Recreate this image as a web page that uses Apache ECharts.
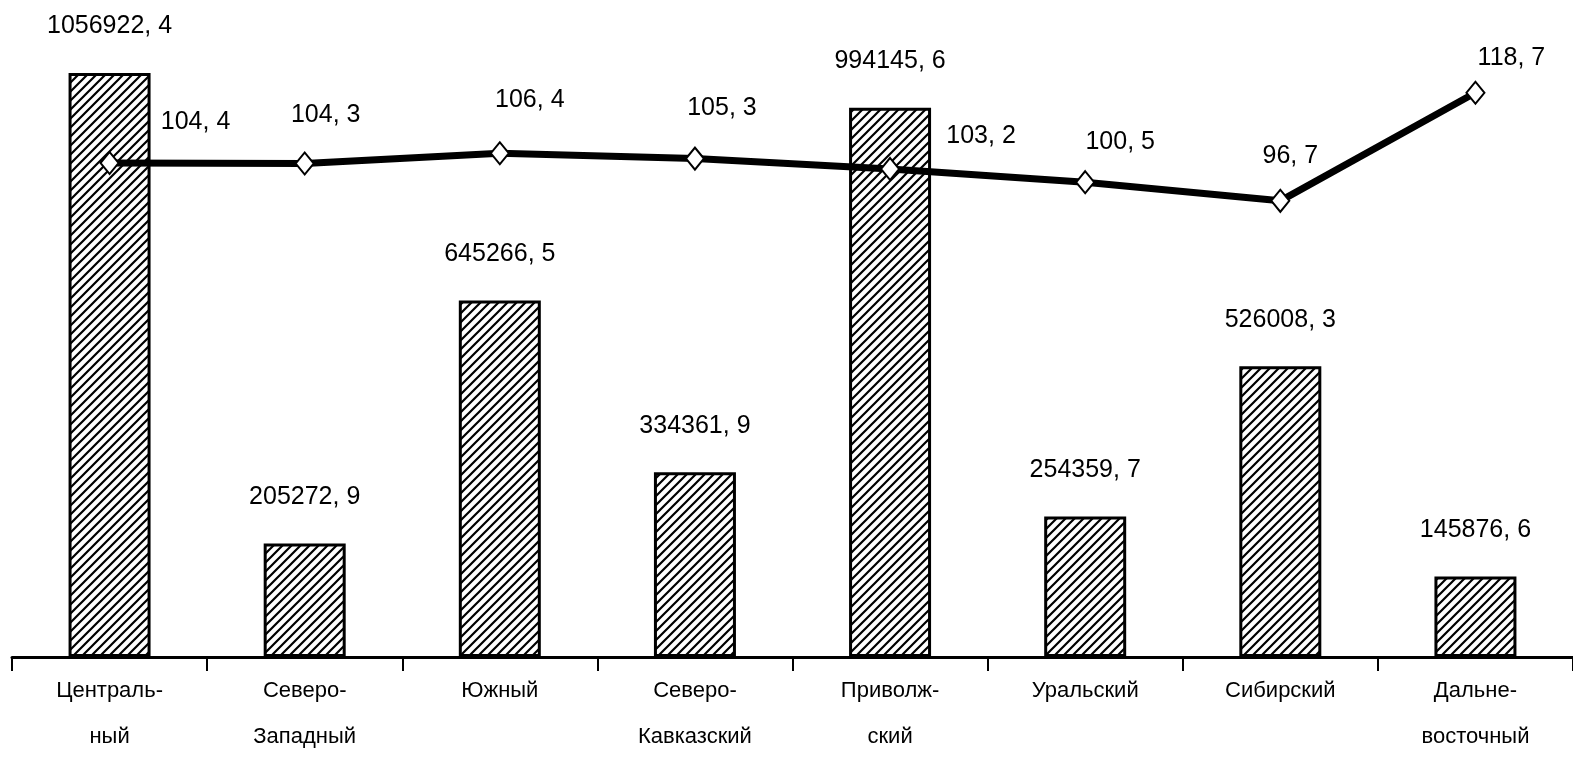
<!DOCTYPE html>
<html>
<head>
<meta charset="utf-8">
<script src="https://cdn.jsdelivr.net/npm/echarts@6/dist/echarts.min.js"></script>
<style>
html,body{margin:0;padding:0;background:#fff;}
#c{width:1573px;height:764px;}
</style>
</head>
<body>
<div id="c"></div>
<script>
var categories = ['Централь-\nный','Северо-\nЗападный','Южный','Северо-\nКавказский','Приволж-\nский','Уральский','Сибирский','Дальне-\nвосточный'];
var volumes = [1056922.4, 205272.9, 645266.5, 334361.9, 994145.6, 254359.7, 526008.3, 145876.6];
var indices = [104.4, 104.3, 106.4, 105.3, 103.2, 100.5, 96.7, 118.7];

function fmt(v){ return v.toFixed(1).replace('.', ', '); }

// label offsets for the line (layout only)
var lineLabelOffsets = [[86,-4],[21,-12],[30,-16],[27,-14],[91,4],[35,-3],[10,-8],[36,2]];

var pc = document.createElement('canvas');
pc.width = 9; pc.height = 9;
var g = pc.getContext('2d');
g.fillStyle = '#fff'; g.fillRect(0,0,9,9);
g.strokeStyle = '#000'; g.lineWidth = 2.2;
g.beginPath();
g.moveTo(-1,10); g.lineTo(10,-1);
g.moveTo(-5,5); g.lineTo(5,-5);
g.moveTo(4,14); g.lineTo(14,4);
g.stroke();

var FONT = '"Liberation Sans Narrow", "Liberation Sans", Arial, sans-serif';

var chart = echarts.init(document.getElementById('c'));
chart.setOption({
  animation: false,
  backgroundColor: '#fff',
  grid: {left: 12, right: 0, top: 0, bottom: 107, containLabel: false},
  xAxis: {
    type: 'category',
    data: categories,
    boundaryGap: true,
    axisLine: {lineStyle: {color: '#000', width: 3}},
    axisTick: {show: true, alignWithLabel: false, length: 14, lineStyle: {color: '#000', width: 2}},
    axisLabel: {color: '#000', fontSize: 22, fontFamily: FONT, lineHeight: 46, margin: 11, interval: 0}
  },
  yAxis: [
    {type: 'value', min: 0, max: 1189000, show: false, splitLine: {show: false}},
    {type: 'value', min: 3.8, max: 137.6, show: false, splitLine: {show: false}}
  ],
  series: [
    {
      type: 'bar',
      data: volumes,
      barWidth: 82,
      itemStyle: {color: {image: pc, repeat: 'repeat'}, borderColor: '#000', borderWidth: 3},
      label: {show: true, position: 'top', distance: 34, color: '#000', fontSize: 25, fontFamily: FONT,
        formatter: function(p){ return fmt(p.value); }}
    },
    {
      type: 'line',
      yAxisIndex: 1,
      data: indices.map(function(v,i){
        return {value: v, label: {offset: lineLabelOffsets[i]}};
      }),
      symbol: 'diamond',
      symbolSize: [18, 22],
      lineStyle: {color: '#000', width: 7},
      itemStyle: {color: '#fff', borderColor: '#000', borderWidth: 2},
      label: {show: true, position: 'top', distance: 12, color: '#000', fontSize: 25, fontFamily: FONT,
        formatter: function(p){ return fmt(p.value); }},
      z: 5
    }
  ]
});
</script>
</body>
</html>
